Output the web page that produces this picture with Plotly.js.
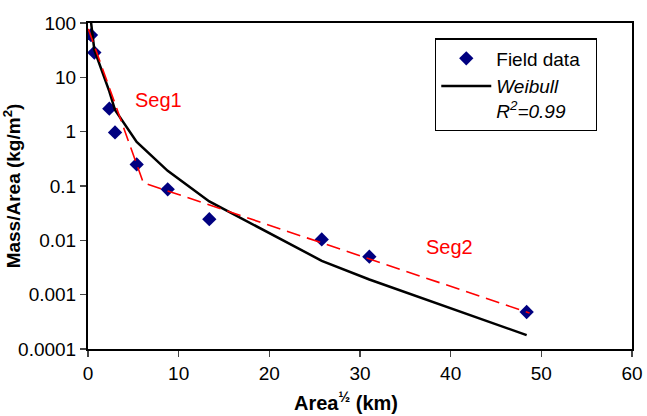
<!DOCTYPE html>
<html>
<head>
<meta charset="utf-8">
<script src="https://cdn.plot.ly/plotly-3.0.1.min.js"></script>
<style>html,body{margin:0;padding:0;background:#fff;}#chart{width:647px;height:416px;}</style>
</head>
<body>
<div id="chart"></div>
<script>
// Field data
var fieldX = [0.33, 0.7, 2.35, 2.98, 5.37, 8.79, 13.38, 25.78, 31.03, 48.38];
var fieldY = [60, 28.5, 2.65, 0.97, 0.25, 0.087, 0.0245, 0.0104, 0.005, 0.00048];
// Weibull fit curve
var weibullX = [0.3, 0.7, 2.35, 2.98, 5.37, 8.79, 13.38, 25.78, 31.03, 48.38];
var weibullY = [115, 32, 5.5, 2.5, 0.65, 0.19, 0.052, 0.0042, 0.0019, 0.00018];
// Segmented fit (Seg1 + Seg2)
var segX = [0.03, 6.1, 48.7];
var segY = [78, 0.115, 0.00046];
// Tick labels
var yTickVals = [0.0001, 0.001, 0.01, 0.1, 1, 10, 100];
var yTickText = ["0.0001", "0.001", "0.01", "0.1", "1", "10", "100"];
var xTickVals = [0, 10, 20, 30, 40, 50, 60];

var FONT = "Liberation Sans, Arial, sans-serif";

var traces = [
  {x: fieldX, y: fieldY, type: 'scatter', mode: 'markers', name: 'Field data\u00A0\u00A0',
   marker: {symbol: 'diamond', size: 11, color: '#000080', line: {width: 0}}},
  {x: weibullX, y: weibullY, type: 'scatter', mode: 'lines',
   name: '<i>Weibull<br>R<sup>2</sup>=0.99</i>',
   line: {color: '#000000', width: 2.5}},
  {x: segX, y: segY, type: 'scatter', mode: 'lines', showlegend: false,
   line: {color: '#FF0000', width: 1.6, dash: '14px,7px'}}
];

var layout = {
  width: 647, height: 416,
  margin: {l: 88, r: 15, t: 23, b: 67},
  paper_bgcolor: '#ffffff', plot_bgcolor: '#ffffff',
  font: {family: FONT, size: 19, color: '#000'},
  showlegend: true,
  legend: {x: 0.638, y: 0.953, xanchor: 'left', yanchor: 'top',
           bordercolor: '#000', borderwidth: 1.2, bgcolor: '#fff',
           font: {family: FONT, size: 19, color: '#000'}, valign: 'top',
           itemwidth: 50, tracegroupgap: 0},
  xaxis: {
    range: [0, 60], tickvals: xTickVals, ticks: 'outside', ticklen: 6, tickwidth: 1.5,
    showline: true, linecolor: '#000', linewidth: 2, mirror: true,
    showgrid: false, zeroline: false,
    tickfont: {family: FONT, size: 19}
  },
  yaxis: {
    type: 'log', range: [-4, 2], tickvals: yTickVals, ticktext: yTickText,
    ticks: 'outside', ticklen: 6, tickwidth: 1.5,
    showline: true, linecolor: '#000', linewidth: 2, mirror: true,
    showgrid: false, zeroline: false,
    tickfont: {family: FONT, size: 19},
    title: {text: '<b>Mass/Area (kg/m<sup>2</sup>)</b>', font: {family: FONT, size: 19}, standoff: 0}
  },
  annotations: [
    {x: 0.475, y: -0.16, xref: 'paper', yref: 'paper', xanchor: 'center', yanchor: 'middle',
     text: '<b>Area<sup>½</sup> (km)</b>', showarrow: false,
     font: {family: FONT, size: 20, color: '#000'}},
    {x: 7.8, y: Math.log10(3.8), xref: 'x', yref: 'y', text: 'Seg1', showarrow: false,
     font: {family: FONT, size: 20, color: '#FF0000'}},
    {x: 39.9, y: Math.log10(0.0077), xref: 'x', yref: 'y', text: 'Seg2', showarrow: false,
     font: {family: FONT, size: 20, color: '#FF0000'}}
  ]
};

Plotly.newPlot('chart', traces, layout, {displayModeBar: false, staticPlot: true});
</script>
</body>
</html>
